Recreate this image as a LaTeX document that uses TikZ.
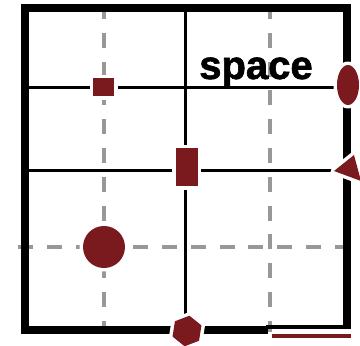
\documentclass[tikz,border=0pt]{standalone}
\usepackage{fontspec}
\newfontfamily\spacefont[FakeBold=1.5]{Liberation Sans Bold}
\usetikzlibrary{shapes.geometric}
\definecolor{wine}{RGB}{122,26,31}
\definecolor{gridgray}{RGB}{152,152,152}
\begin{document}
\begin{tikzpicture}[x=1pt,y=-1pt,
  wall/.style={line width=8pt, line join=miter, line cap=butt},
  solidline/.style={line width=3pt, black},
  dashline/.style={line width=3.3pt, gridgray, dash pattern=on 15pt off 13.8pt},
  furn/.style={fill=wine, draw=none, inner sep=0pt, outer sep=0pt,
    preaction={draw=white, line width=7pt, line join=round}},
  windowline/.style={line width=4pt, wine},
]
\useasboundingbox (0,0) rectangle (360,346);
% dashed grid lines
\coordinate (v1t) at (104,4);   \coordinate (v1b) at (104,332);
\coordinate (v2t) at (270,4);   \coordinate (v2b) at (270,332);
\coordinate (h3l) at (18,247);  \coordinate (h3r) at (350,247);
\draw[dashline] (v1t) -- (v1b);
\draw[dashline] (v2t) -- (v2b);
\draw[dashline] (h3l) -- (h3r);
% solid grid lines
\coordinate (vmt) at (186,8);   \coordinate (vmb) at (186,330);
\coordinate (h1l) at (25,87);   \coordinate (h1r) at (347,87);
\coordinate (h2l) at (25,170);  \coordinate (h2r) at (347,170);
\draw[solidline] (vmt) -- (vmb);
\draw[solidline] (h1l) -- (h1r);
\draw[solidline] (h2l) -- (h2r);
% walls
\coordinate (wa) at (268,330);
\coordinate (wb) at (25,330);
\coordinate (wc) at (25,8);
\coordinate (wd) at (347,8);
\coordinate (we) at (347,329);
\draw[wall] (wa) -- (wb) -- (wc) -- (wd) -- (we);
\coordinate (tl) at (266,327); \coordinate (tr) at (351,327);
\draw[line width=4pt] (tl) -- (tr);
\coordinate (rl) at (272,336); \coordinate (rr) at (351,336);
\draw[windowline] (rl) -- (rr);
% label
\node[font=\spacefont\fontsize{40}{40}\selectfont, anchor=base, inner sep=0pt] (label) at (256,79) {space};
% furniture
\node[furn, rectangle, minimum width=21pt, minimum height=18pt] (sq) at (104,87) {};
\node[furn, rectangle, minimum width=22pt, minimum height=38pt] (rect) at (187,167) {};
\node[furn, circle, minimum size=42pt] (circ) at (104,247) {};
\node[furn, ellipse, minimum width=22pt, minimum height=40pt] (ell) at (348,85) {};
\node[furn, regular polygon, regular polygon sides=6, minimum size=31pt, rotate=21] (hex) at (187,331) {};
\coordinate (ta) at (334,171); \coordinate (tb) at (354,155); \coordinate (tc) at (361,181);
\path[furn] (ta) -- (tb) -- (tc) -- cycle;
\end{tikzpicture}
\end{document}
